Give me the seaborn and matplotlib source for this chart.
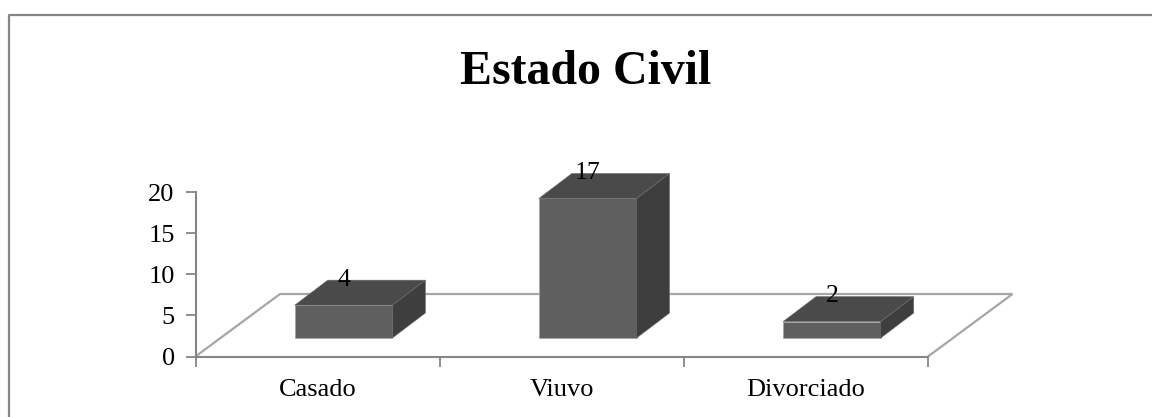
import matplotlib
matplotlib.use("Agg")
import matplotlib.pyplot as plt
from matplotlib.lines import Line2D
import pandas as pd
import seaborn as sns
from matplotlib.patches import Polygon

categories = ["Casado", "Viuvo", "Divorciado"]
values = [4, 17, 2]
y_ticks = [0, 5, 10, 15, 20]
title = "Estado Civil"

W, H = 1152, 417
AX_L, AX_R, AX_B, AX_T = 195.5, 928, 356.5, 192.3  # pixel box of the axes
FLOOR_DX, FLOOR_DY = 84.5, 62.5                    # depth of the floor (px)
BAR_DX, BAR_DY = 33, 25                            # depth of a bar (px)
BAR_LIFT = 18.5                                    # floor offset of bar base (px)
FRONT, TOP, SIDE = "#5f5f5f", "#4a4a4a", "#3e3e3e"
EDGE, AXIS = "#a6a6a6", "#868686"

sns.set_style("white")
plt.rcParams["font.family"] = ["Liberation Serif", "DejaVu Serif"]

fig = plt.figure(figsize=(W / 100, H / 100), dpi=100, facecolor="white")
# outer frame: only the top and left edges are visible
fig.add_artist(Line2D([1, 9 / W, 9 / W], [1 - 14.5 / H, 1 - 14.5 / H, 0],
                      transform=fig.transFigure, color=AXIS, lw=1.6))
ax = fig.add_axes([AX_L / W, 1 - AX_B / H, (AX_R - AX_L) / W, (AX_B - AX_T) / H])

df = pd.DataFrame({"estado": categories, "n": values})
sns.barplot(data=df, x="estado", y="n", ax=ax, width=0.4, color=FRONT,
            saturation=1, linewidth=0.7, edgecolor=EDGE, zorder=3)

x_unit = (AX_R - AX_L) / 3
x0 = -0.5 - 26 / x_unit
ax.set_xlim(x0, x0 + 3)
ax.set_ylim(0, 20)
y_unit = (AX_B - AX_T) / 20
base = BAR_LIFT / y_unit
dx, dy = BAR_DX / x_unit, BAR_DY / y_unit

# floor of the 3-D box
fx, fy = FLOOR_DX / x_unit, FLOOR_DY / y_unit
ax.add_patch(Polygon([(x0, 0), (x0 + fx, fy), (x0 + 3 + fx, fy), (x0 + 3, 0)],
                     closed=False, fill=False, ec=EDGE, lw=1.6, clip_on=False, zorder=1))

for i, (bar, v) in enumerate(zip(ax.patches[:3], values)):
    bar.set_y(base)
    l, r = bar.get_x(), bar.get_x() + bar.get_width()
    t = base + v
    ax.add_patch(Polygon([(l, t), (l + dx, t + dy), (r + dx, t + dy), (r, t)],
                         fc=TOP, ec="#6e6e6e", lw=0.4, clip_on=False, zorder=3))
    ax.add_patch(Polygon([(r, base), (r + dx, base + dy), (r + dx, t + dy), (r, t)],
                         fc=SIDE, ec="#6e6e6e", lw=0.4, clip_on=False, zorder=3))
    ax.text(i, t + dy + 1.4, str(v), ha="center", va="top", fontsize=18.5,
            color="black", zorder=5, clip_on=False)

sns.despine(ax=ax, top=True, right=True)
for s in ("left", "bottom"):
    ax.spines[s].set_color(AXIS)
    ax.spines[s].set_linewidth(1.5)

ax.set_xticks([x0 + k for k in range(4)])
ax.set_xticklabels([])
ax.set_xticks([x0 + k + 0.5 for k in range(3)], minor=True)
ax.set_xticklabels(categories, minor=True, fontsize=19, color="black")
ax.tick_params(axis="x", which="major", length=7, width=1.3, color=AXIS, bottom=True, direction="out")
ax.tick_params(axis="x", which="minor", length=0, pad=16)
ax.set_yticks(y_ticks)
ax.tick_params(axis="y", length=7, width=1.3, color=AXIS, labelsize=19, labelcolor="black",
               pad=8, left=True, direction="out")
ax.set_xlabel("")
ax.set_ylabel("")
ax.patch.set_alpha(0)

fig.text(586 / W, 1 - 72 / H, title, ha="center", va="center", fontsize=34.5, fontweight="bold", color="black")
fig.savefig("out.png", dpi=100)
